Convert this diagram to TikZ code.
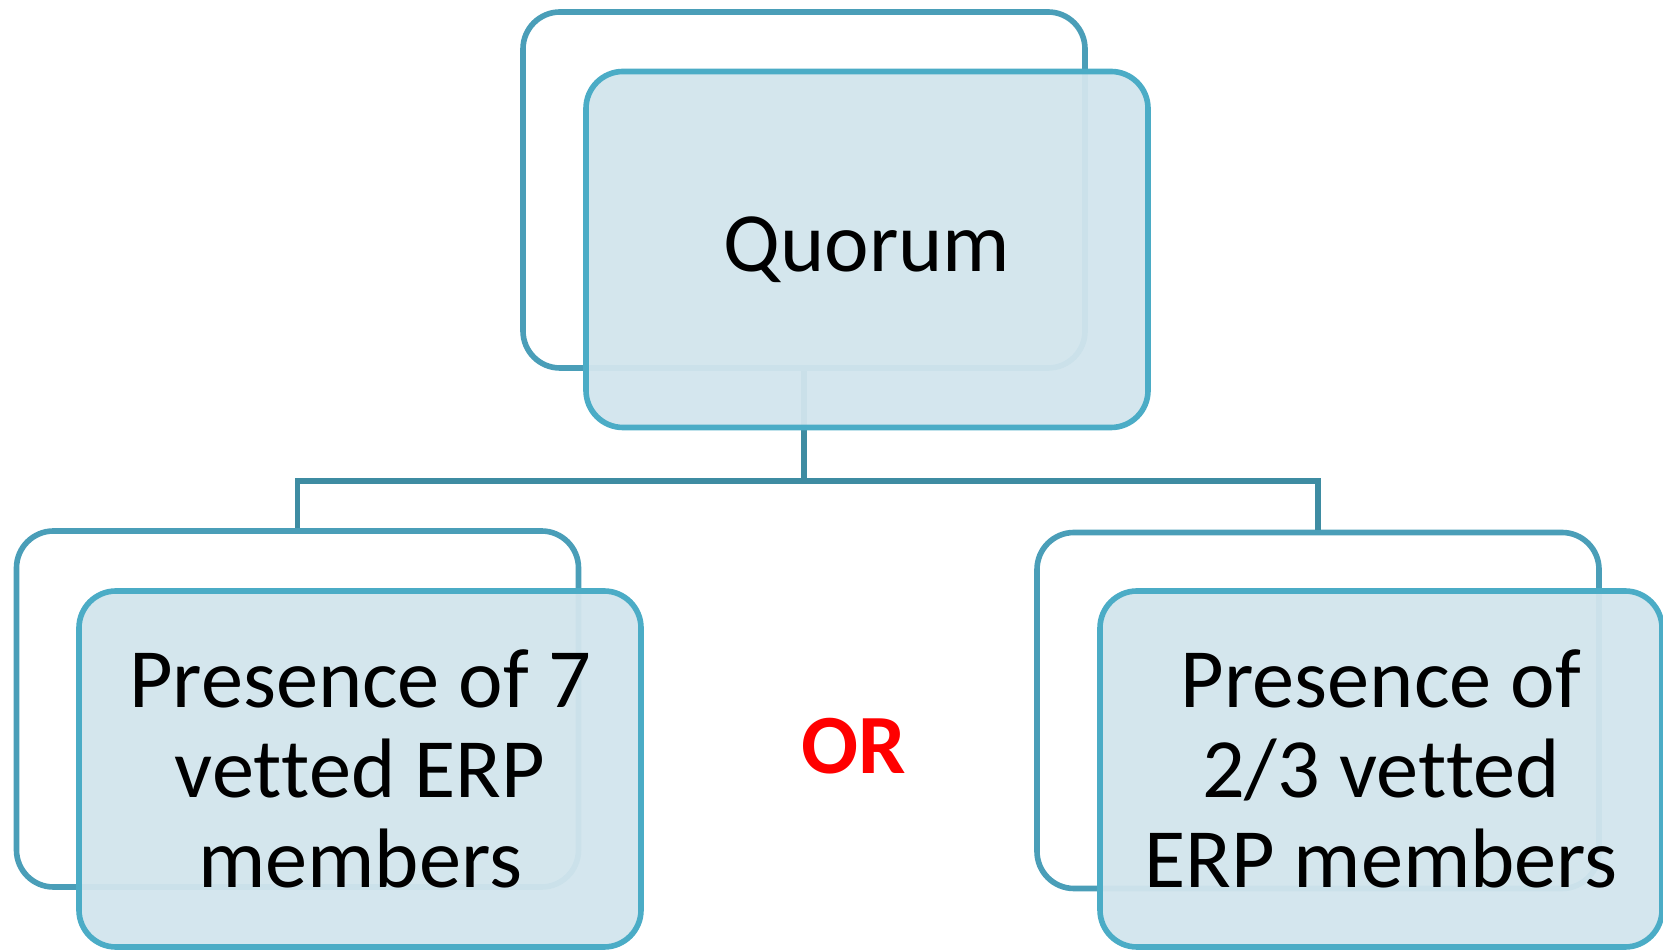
\documentclass[tikz,border=0pt]{standalone}
\usepackage{fontspec}
\setmainfont[Ligatures={NoCommon,NoContextual}]{Carlito}
\usepackage{tikz}

\definecolor{boxline}{RGB}{75,172,198}
\definecolor{backline}{RGB}{74,158,184}
\definecolor{linkline}{RGB}{62,140,162}
\definecolor{boxfill}{RGB}{210,229,237}
\definecolor{orred}{RGB}{255,0,0}
\newcommand{\vetted}{vet\kern0pt ted}

\tikzset{
  backbox/.style={draw=backline, fill=white, line width=1.6pt, rounded corners=0.37cm,
    minimum width=5.62cm, minimum height=3.56cm},
  frontbox/.style={draw=boxline, fill=boxfill, fill opacity=0.95, text opacity=1,
    line width=1.6pt, rounded corners=0.37cm, minimum width=5.62cm, minimum height=3.56cm,
    align=center, font=\fontsize{24}{25.6}\selectfont},
  link/.style={draw=linkline, line width=1.6pt}
}

\begin{document}
\begin{tikzpicture}
\useasboundingbox (0,0) rectangle (16.63,9.5);
% back boxes
\node[backbox] (quorumback) at (8.04,7.60) {};
\node[backbox] (sevenback) at (2.975,2.41) {};
\node[backbox] (twothirdsback) at (13.18,2.395) {};
% tree lines
\coordinate (split) at (8.04,4.69);
\draw[link] (quorumback.south) -- (split);
\draw[link] (split) -| (sevenback.north);
\draw[link] (split) -| (twothirdsback.north);
% front boxes
\node[frontbox] (quorum) at (8.67,7.005) {Quorum};
\node[frontbox] (seven) at (3.60,1.81) {Presence of 7\\\vetted{} ERP\\members};
\node[frontbox] (twothirds) at (13.81,1.81) {Presence of\\2/3 \vetted\\ERP members};
\node[text=orred, font=\fontsize{24}{26}\selectfont\bfseries] (orlabel) at (8.54,2.04) {OR};
\end{tikzpicture}
\end{document}
